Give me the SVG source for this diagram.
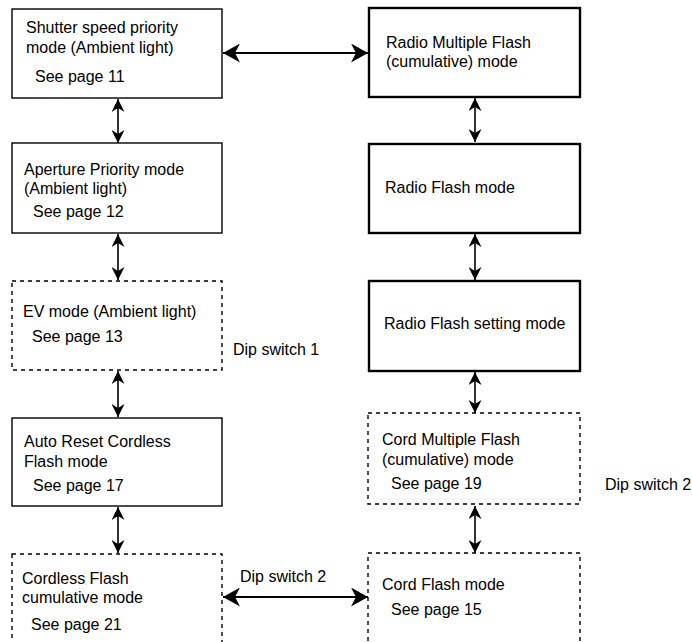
<svg xmlns="http://www.w3.org/2000/svg" width="692" height="642" viewBox="0 0 692 642">
  <style>
    text { font-family: "Liberation Sans", Arial, Helvetica, sans-serif; font-size: 16px; fill: #000; }
    .box { fill: #fff; stroke: #000; stroke-width: 1.4; }
    .thick { fill: #fff; stroke: #000; stroke-width: 2.4; }
    .dash { fill: #fff; stroke: #000; stroke-width: 1.4; stroke-dasharray: 4 4; }
    .link { fill: none; stroke: #000; stroke-width: 1.6; }
    .hlink { fill: none; stroke: #000; stroke-width: 2; }
  </style>
  <defs>
    <marker id="arrV" viewBox="0 0 13 13" markerUnits="userSpaceOnUse" markerWidth="13" markerHeight="13" refX="13" refY="6.5" orient="auto-start-reverse">
      <path d="M0,0 L13,6.5 L0,13 L4,6.5 Z" fill="#000"/>
    </marker>
    <marker id="arrH" viewBox="0 0 17 19" markerUnits="userSpaceOnUse" markerWidth="17" markerHeight="19" refX="17" refY="9.5" orient="auto-start-reverse">
      <path d="M0,0 L17,9.5 L0,19 L5,9.5 Z" fill="#000"/>
    </marker>
  </defs>

  <rect width="692" height="642" fill="#fff"/>

  <!-- connectors -->
  <g id="connectors">
    <line class="hlink" x1="223" y1="53" x2="368" y2="53" marker-start="url(#arrH)" marker-end="url(#arrH)"/>
    <line class="link" x1="118" y1="99" x2="118" y2="143" marker-start="url(#arrV)" marker-end="url(#arrV)"/>
    <line class="link" x1="118" y1="234" x2="118" y2="280" marker-start="url(#arrV)" marker-end="url(#arrV)"/>
    <line class="link" x1="118" y1="371" x2="118" y2="417" marker-start="url(#arrV)" marker-end="url(#arrV)"/>
    <line class="link" x1="118" y1="507" x2="118" y2="553" marker-start="url(#arrV)" marker-end="url(#arrV)"/>
    <line class="link" x1="475" y1="98" x2="475" y2="142" marker-start="url(#arrV)" marker-end="url(#arrV)"/>
    <line class="link" x1="475" y1="234" x2="475" y2="280" marker-start="url(#arrV)" marker-end="url(#arrV)"/>
    <line class="link" x1="475" y1="372" x2="475" y2="413" marker-start="url(#arrV)" marker-end="url(#arrV)"/>
    <line class="link" x1="475" y1="506" x2="475" y2="553" marker-start="url(#arrV)" marker-end="url(#arrV)"/>
    <line class="hlink" x1="223" y1="597" x2="368" y2="597" marker-start="url(#arrH)" marker-end="url(#arrH)"/>
  </g>

  <!-- left column -->
  <g id="shutter-priority">
    <rect class="box" x="12" y="9" width="210" height="89"/>
    <text x="26" y="33">Shutter speed priority</text>
    <text x="26" y="53">mode (Ambient light)</text>
    <text x="35" y="82">See page 11</text>
  </g>
  <g id="aperture-priority">
    <rect class="box" x="12" y="143" width="210" height="90"/>
    <text x="24" y="175">Aperture Priority mode</text>
    <text x="24" y="194">(Ambient light)</text>
    <text x="33" y="217">See page 12</text>
  </g>
  <g id="ev-mode">
    <rect class="dash" x="12" y="281" width="210" height="89"/>
    <text x="23" y="317">EV mode (Ambient light)</text>
    <text x="32" y="342">See page 13</text>
  </g>
  <g id="dip-switch-1">
    <text x="233" y="355">Dip switch 1</text>
  </g>
  <g id="auto-reset-cordless">
    <rect class="box" x="12" y="418" width="210" height="88"/>
    <text x="24" y="447">Auto Reset Cordless</text>
    <text x="24" y="467">Flash mode</text>
    <text x="33" y="491">See page 17</text>
  </g>
  <g id="cordless-cumulative">
    <rect class="dash" x="12" y="554" width="210" height="100"/>
    <text x="22" y="584">Cordless Flash</text>
    <text x="22" y="603">cumulative mode</text>
    <text x="31" y="630">See page 21</text>
  </g>
  <g id="dip-switch-2-bottom">
    <text x="240" y="582">Dip switch 2</text>
  </g>

  <!-- right column -->
  <g id="radio-multiple">
    <rect class="thick" x="369" y="8" width="211" height="89"/>
    <text x="386" y="48">Radio Multiple Flash</text>
    <text x="386" y="67">(cumulative) mode</text>
  </g>
  <g id="radio-flash">
    <rect class="thick" x="369" y="144" width="211" height="89"/>
    <text x="385" y="193">Radio Flash mode</text>
  </g>
  <g id="radio-flash-setting">
    <rect class="thick" x="369" y="281" width="211" height="90"/>
    <text x="384" y="329">Radio Flash setting mode</text>
  </g>
  <g id="cord-multiple">
    <rect class="dash" x="368" y="413" width="212" height="91"/>
    <text x="382" y="445">Cord Multiple Flash</text>
    <text x="382" y="465">(cumulative) mode</text>
    <text x="391" y="489">See page 19</text>
  </g>
  <g id="dip-switch-2-right">
    <text x="605" y="490">Dip switch 2</text>
  </g>
  <g id="cord-flash">
    <rect class="dash" x="368" y="553" width="212" height="100"/>
    <text x="382" y="590">Cord Flash mode</text>
    <text x="391" y="615">See page 15</text>
  </g>
</svg>
